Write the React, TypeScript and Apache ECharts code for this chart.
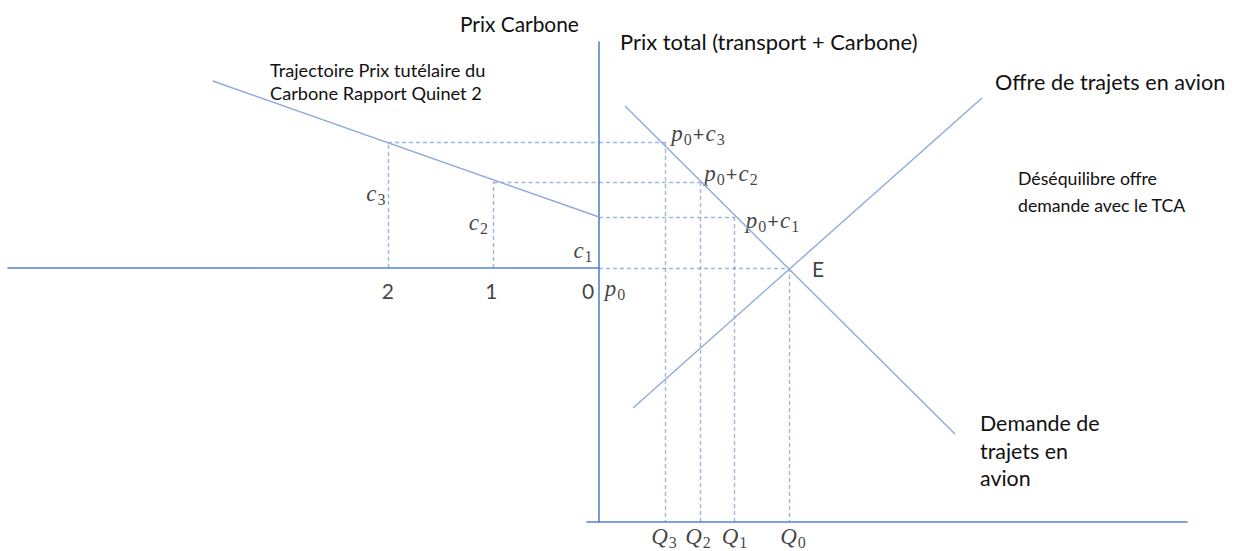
import React, { useEffect, useRef } from 'react';
import * as echarts from 'echarts';

// ---- Data ----
// Left panel: carbon price trajectory (years, carbon price c)
const years = [0, 1, 2];
const carbonPrices = [5.1, 8.6, 12.6]; // c1, c2, c3
const carbonIndex = ['1', '2', '3'];
const yearTickLabels = ['0', '1', '2'];
const trajectoryYears = [0, 3.66];
const trajectoryPrices = [5.1, 18.7];

// Right panel: price / quantity
const p0 = 25.4;
const q0 = 19.0;
const taxedQuantities = [13.55, 10.1, 6.6]; // Q1, Q2, Q3
const demandQ = [2.6, 35.6];
const demandP = [41.6, 8.8];
const supplyQ = [3.4, 38.3];
const supplyP = [11.4, 42.4];

const AXIS = '#5583d0';
const LINE = '#8eaadb';
const DASH = '#4470c4';
const TXT = '#111111';
const SANS = 'Lato';
const MATH = 'Liberation Serif';

const rich = {
  i: { fontFamily: MATH, fontStyle: 'italic', fontSize: 23, color: TXT },
  s: { fontFamily: MATH, fontSize: 16, color: TXT, padding: [13, 0, 0, 1] },
  n: { fontFamily: SANS, fontSize: 20, color: TXT, padding: [0, 1, 0, 1] },
  t: { fontFamily: SANS, fontSize: 21, color: TXT },
};

export default function App() {
  const ref = useRef<HTMLDivElement>(null);

  useEffect(() => {
    document.body.style.margin = '0';
    if (!ref.current) return;
    const chart = echarts.init(ref.current, null, { renderer: 'svg' });

    const leftDashed: any[] = [];
    years.forEach((yr, i) => {
      if (yr > 0) {
        leftDashed.push({ coords: [[yr, 0], [yr, carbonPrices[i]]] });
        leftDashed.push({ coords: [[yr, carbonPrices[i]], [0, carbonPrices[i]]] });
      }
    });

    const rightDashed: any[] = [];
    taxedQuantities.forEach((q, i) => {
      const price = p0 + carbonPrices[i];
      rightDashed.push({ coords: [[0, price], [q, price]] });
      rightDashed.push({ coords: [[q, price], [q, 0]] });
    });
    rightDashed.push({ coords: [[0, p0], [q0, p0]] });
    rightDashed.push({ coords: [[q0, p0], [q0, 0]] });

    const cOffsets = [[-16, -18], [-15, -46], [-12, -75]];
    const leftLabels: any[] = years.map((yr, i) => ({
      value: [yr, 0],
      label: { formatter: `{i|c}{s|${carbonIndex[i]}}`, offset: cOffsets[i] },
    }));
    const tickOffsets = [[-11, 22], [-2, 22], [0, 22]];
    years.forEach((yr, i) => {
      leftLabels.push({
        value: [yr, 0],
        label: { formatter: `{t|${yearTickLabels[i]}}`, offset: tickOffsets[i] },
      });
    });

    const pcOffsets = [[38, 3], [31, -9], [33, -9]];
    const qOffsets = [[0, 14], [-2, 14], [-1, 14]];
    const rightLabels: any[] = [
      { value: [0, p0], label: { formatter: '{i|p}{s|0}', offset: [16, 20] } },
      { value: [q0, p0], label: { formatter: '{t|E}', offset: [29, 0] } },
      { value: [q0, 0], label: { formatter: '{i|Q}{s|0}', offset: [4, 14] } },
    ];
    taxedQuantities.forEach((q, i) => {
      const price = p0 + carbonPrices[i];
      rightLabels.push({
        value: [q, price],
        label: { formatter: `{i|p}{s|0}{n|+}{i|c}{s|${carbonIndex[i]}}`, offset: pcOffsets[i] },
      });
      rightLabels.push({
        value: [q, 0],
        label: { formatter: `{i|Q}{s|${carbonIndex[i]}}`, offset: qOffsets[i] },
      });
    });

    const hidden = { show: false };
    const dashStyle = { color: DASH, width: 1.4, type: [4, 3] as any };

    chart.setOption({
      animation: false,
      backgroundColor: '#ffffff',
      grid: [
        { left: 8, top: 42, width: 591, height: 226 },
        { left: 587, top: 42, width: 600, height: 480 },
      ],
      xAxis: [
        {
          gridIndex: 0, type: 'value', inverse: true, min: 0, max: 5.6,
          axisLine: { show: true, onZero: false, lineStyle: { color: AXIS, width: 1.6 } },
          axisTick: hidden, axisLabel: hidden, splitLine: hidden,
        },
        {
          gridIndex: 1, type: 'value', min: -1.2, max: 58.8,
          axisLine: { show: true, onZero: false, lineStyle: { color: AXIS, width: 1.6 } },
          axisTick: hidden, axisLabel: hidden, splitLine: hidden,
        },
      ],
      yAxis: [
        {
          gridIndex: 0, type: 'value', min: 0, max: 22.6,
          axisLine: hidden, axisTick: hidden, axisLabel: hidden, splitLine: hidden,
        },
        {
          gridIndex: 1, type: 'value', min: 0, max: 48,
          axisLine: { show: true, onZero: true, lineStyle: { color: AXIS, width: 1.6 } },
          axisTick: hidden, axisLabel: hidden, splitLine: hidden,
        },
      ],
      series: [
        {
          name: 'Trajectoire', type: 'line', xAxisIndex: 0, yAxisIndex: 0,
          data: trajectoryYears.map((y, i) => [y, trajectoryPrices[i]]),
          symbol: 'none', lineStyle: { color: LINE, width: 1.4 }, silent: true,
        },
        {
          name: 'Demande', type: 'line', xAxisIndex: 1, yAxisIndex: 1,
          data: demandQ.map((q, i) => [q, demandP[i]]),
          symbol: 'none', lineStyle: { color: LINE, width: 1.4 }, silent: true,
        },
        {
          name: 'Offre', type: 'line', xAxisIndex: 1, yAxisIndex: 1,
          data: supplyQ.map((q, i) => [q, supplyP[i]]),
          symbol: 'none', lineStyle: { color: LINE, width: 1.4 }, silent: true,
        },
        {
          type: 'lines', coordinateSystem: 'cartesian2d', xAxisIndex: 0, yAxisIndex: 0,
          data: leftDashed, lineStyle: dashStyle, silent: true,
        },
        {
          type: 'lines', coordinateSystem: 'cartesian2d', xAxisIndex: 1, yAxisIndex: 1,
          data: rightDashed, lineStyle: dashStyle, silent: true,
        },
        {
          type: 'scatter', xAxisIndex: 0, yAxisIndex: 0, symbolSize: 1,
          itemStyle: { color: 'rgba(0,0,0,0)' }, silent: true,
          label: { show: true, position: 'inside', rich },
          data: leftLabels,
        },
        {
          type: 'scatter', xAxisIndex: 1, yAxisIndex: 1, symbolSize: 1,
          itemStyle: { color: 'rgba(0,0,0,0)' }, silent: true,
          label: { show: true, position: 'inside', rich },
          data: rightLabels,
        },
      ],
      graphic: [
        { type: 'text', x: 460, y: 23, style: { text: 'Prix Carbone', font: `20.9px ${SANS}`, fill: TXT, textVerticalAlign: 'middle' } },
        { type: 'text', x: 620, y: 41, style: { text: 'Prix total (transport + Carbone)', font: `21.9px ${SANS}`, fill: TXT, textVerticalAlign: 'middle' } },
        { type: 'text', x: 270, y: 81.5, style: { text: 'Trajectoire Prix tutélaire du\nCarbone Rapport Quinet 2', font: `18.2px ${SANS}`, lineHeight: 23, fill: TXT, textVerticalAlign: 'middle' } },
        { type: 'text', x: 995, y: 82, style: { text: 'Offre de trajets en avion', font: `21.6px ${SANS}`, fill: TXT, textVerticalAlign: 'middle' } },
        { type: 'text', x: 1018, y: 191.5, style: { text: 'Déséquilibre offre\ndemande avec le TCA', font: `17.7px ${SANS}`, lineHeight: 27, fill: TXT, textVerticalAlign: 'middle' } },
        { type: 'text', x: 980, y: 450.5, style: { text: 'Demande de\ntrajets en\navion', font: `21.4px ${SANS}`, lineHeight: 27.5, fill: TXT, textVerticalAlign: 'middle' } },
      ],
    });

    return () => chart.dispose();
  }, []);

  return <div ref={ref} style={{ width: 1235, height: 551 }} />;
}
